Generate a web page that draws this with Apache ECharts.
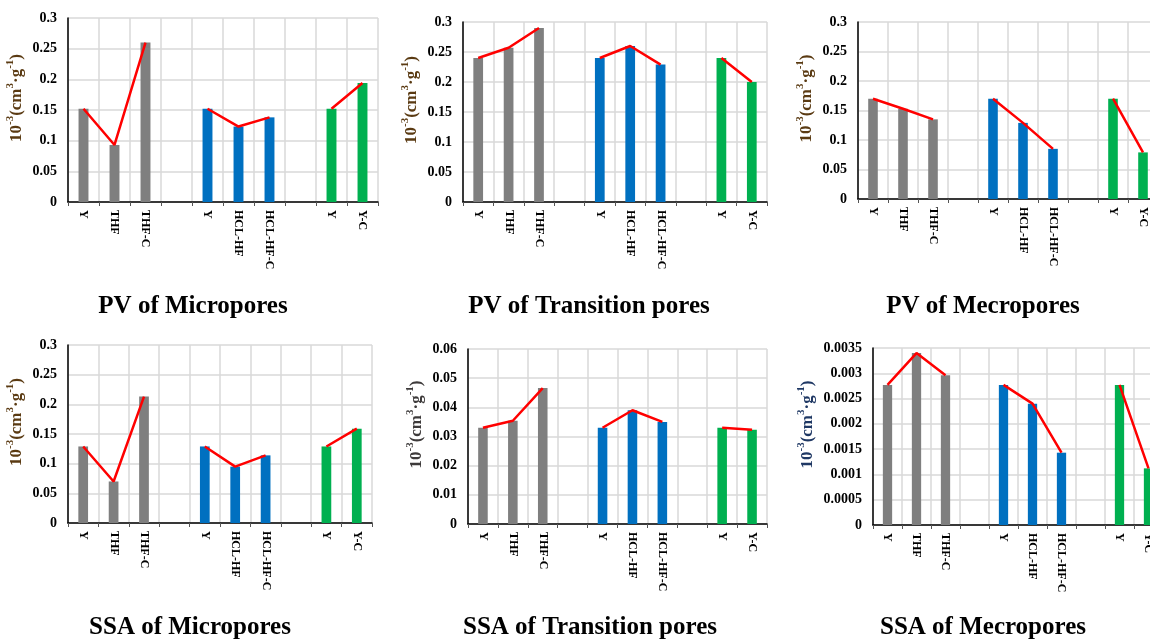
<!DOCTYPE html>
<html>
<head>
<meta charset="utf-8">
<script src="https://cdn.jsdelivr.net/npm/echarts@6/dist/echarts.min.js"></script>
<style>
  html, body { margin: 0; padding: 0; background: #fff; }
  #chart { width: 1150px; height: 639px; }
</style>
</head>
<body>
<div id="chart"></div>
<script>
// categories along every x axis (blank slots separate the three groups)
const categories = ['Y', 'THF', 'THF-C', '', 'Y', 'HCL-HF', 'HCL-HF-C', '', 'Y', 'Y-C'];

// values
const pvMicro  = [0.152, 0.093, 0.26, null, 0.152, 0.123, 0.138, null, 0.152, 0.194];
const pvTrans  = [0.24, 0.257, 0.29, null, 0.24, 0.26, 0.229, null, 0.24, 0.2];
const pvMeso   = [0.17, 0.153, 0.135, null, 0.17, 0.129, 0.085, null, 0.17, 0.079];
const ssaMicro = [0.129, 0.07, 0.213, null, 0.129, 0.095, 0.114, null, 0.129, 0.159];
const ssaTrans = [0.033, 0.0354, 0.0466, null, 0.033, 0.039, 0.035, null, 0.033, 0.0323];
const ssaMeso  = [0.00277, 0.0034, 0.00296, null, 0.00277, 0.0024, 0.00143, null, 0.00277, 0.00112];

const panelTitles = ['PV of Micropores', 'PV of Transition pores', 'PV of Mecropores',
                     'SSA of Micropores', 'SSA of Transition pores', 'SSA of Mecropores'];
const yMax  = [0.3, 0.3, 0.3, 0.3, 0.06, 0.0035];
const yStep = [0.05, 0.05, 0.05, 0.05, 0.01, 0.0005];
const yName = '10{sup|-3}(cm{sup|3}·g{sup|-1})';

const panelData = [pvMicro, pvTrans, pvMeso, ssaMicro, ssaTrans, ssaMeso];

// layout of each panel: plot area and title centre
// (the right column runs past the page edge, as in the original figure)
const grids = [
    { left: 68,  top: 18,  width: 310, height: 184 },
    { left: 463, top: 22,  width: 304, height: 180 },
    { left: 858, top: 22,  width: 300, height: 177 },
    { left: 68,  top: 345, width: 304, height: 178 },
    { left: 468, top: 349, width: 299, height: 175 },
    { left: 873, top: 348, width: 290, height: 177 }
].map(g => Object.assign({ outerBoundsMode: 'none', containLabel: false }, g));
const titlePos = [[193, 307], [589, 307], [983, 307], [190, 628], [590, 628], [983, 628]];
const nameColors = ['#5a3a12', '#5a3a12', '#5a3a12', '#5a3a12', '#3d3a3a', '#1f3864'];

const groupColors = ['#7f7f7f', '#0070c0', '#00b050'];
function barColor(idx) {
    if (idx < 3) return groupColors[0];
    if (idx < 7) return groupColors[1];
    return groupColors[2];
}

const serif = '"Liberation Serif", "Times New Roman", serif';

const option = {
    backgroundColor: '#fff',
    animation: false,
    grid: grids,
    xAxis: grids.map((g, i) => ({
        type: 'category',
        gridIndex: i,
        data: categories,
        boundaryGap: true,
        axisLine: { lineStyle: { color: '#000', width: 1.5 } },
        axisTick: { show: true, length: 4, lineStyle: { color: '#555' } },
        axisLabel: {
            interval: 0,
            rotate: -90,
            margin: 8,
            color: '#000',
            fontFamily: serif,
            fontWeight: 'bold',
            fontSize: 12
        },
        splitLine: { show: true, lineStyle: { color: '#d9d9d9', width: 1.5 } }
    })),
    yAxis: grids.map((g, i) => ({
        type: 'value',
        gridIndex: i,
        min: 0,
        max: yMax[i],
        interval: yStep[i],
        name: yName,
        nameLocation: 'middle',
        nameGap: 31,
        nameTextStyle: {
            color: nameColors[i],
            fontFamily: serif,
            fontWeight: 'bold',
            fontSize: 17,
            lineHeight: 24,
            padding: [0, 0, 0, 24],
            rich: {
                sup: {
                    color: nameColors[i],
                    fontFamily: serif,
                    fontWeight: 'bold',
                    fontSize: 11,
                    verticalAlign: 'top',
                    lineHeight: 24
                }
            }
        },
        axisLine: { show: true, lineStyle: { color: '#000', width: 1.5 } },
        axisTick: { show: false },
        axisLabel: {
            color: '#000',
            fontFamily: serif,
            fontWeight: 'bold',
            fontSize: 14,
            margin: 11
        },
        splitLine: { show: true, lineStyle: { color: '#d9d9d9', width: 1.5 } }
    })),
    series: [],
    graphic: panelTitles.map((t, i) => ({
        type: 'text',
        x: titlePos[i][0],
        y: titlePos[i][1],
        style: {
            text: t,
            font: 'bold 25px ' + serif,
            fill: '#000',
            textAlign: 'center',
            textVerticalAlign: 'middle'
        }
    }))
};

panelData.forEach((vals, i) => {
    option.series.push({
        type: 'bar',
        xAxisIndex: i,
        yAxisIndex: i,
        data: vals,
        barWidth: '32%',
        itemStyle: { color: p => barColor(p.dataIndex) }
    });
    option.series.push({
        type: 'line',
        xAxisIndex: i,
        yAxisIndex: i,
        data: vals,
        connectNulls: false,
        symbol: 'none',
        z: 5,
        lineStyle: { color: '#ff0000', width: 2.5 }
    });
});

const chart = echarts.init(document.getElementById('chart'));
chart.setOption(option);
</script>
</body>
</html>
